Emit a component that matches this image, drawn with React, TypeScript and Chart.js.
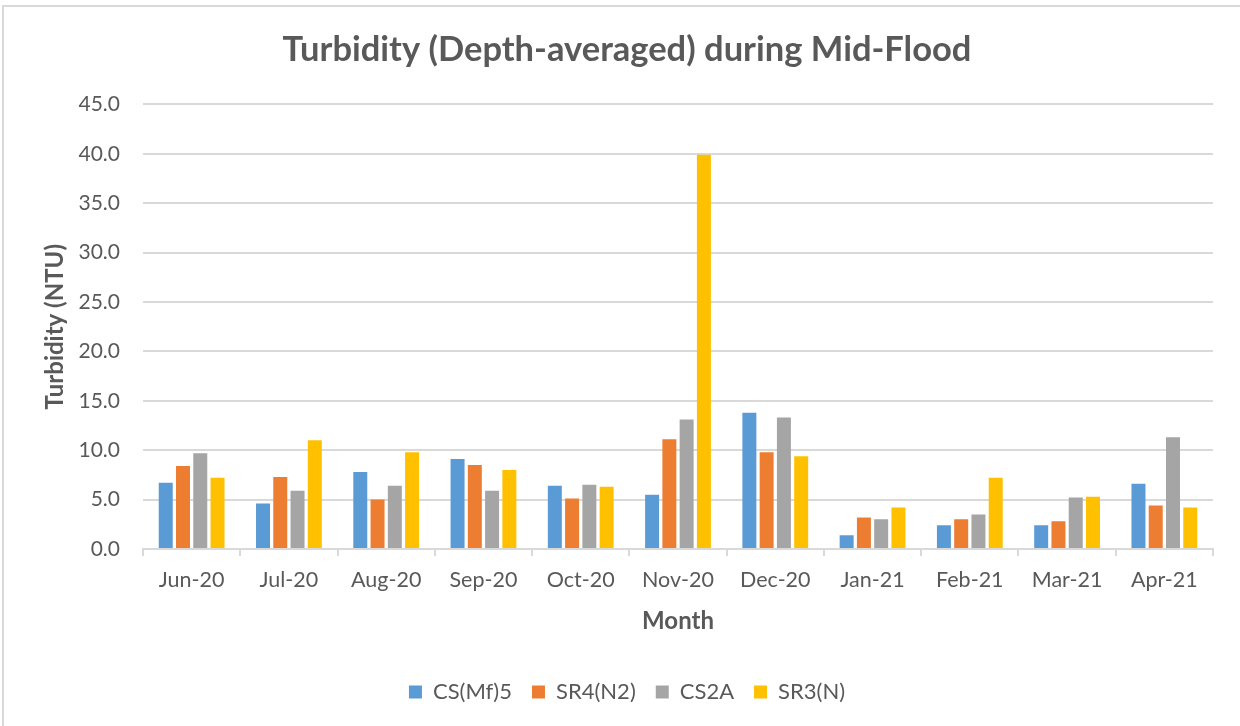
import React, { useEffect, useRef } from "react";
import { Chart, registerables } from "chart.js";

Chart.register(...registerables);

const months = ["Jun-20", "Jul-20", "Aug-20", "Sep-20", "Oct-20", "Nov-20", "Dec-20", "Jan-21", "Feb-21", "Mar-21", "Apr-21"];
const csMf5 = [6.7, 4.6, 7.8, 9.1, 6.4, 5.5, 13.8, 1.4, 2.4, 2.4, 6.6];
const sr4N2 = [8.4, 7.3, 5.0, 8.5, 5.1, 11.1, 9.8, 3.2, 3.0, 2.8, 4.4];
const cs2A = [9.7, 5.9, 6.4, 5.9, 6.5, 13.1, 13.3, 3.0, 3.5, 5.2, 11.3];
const sr3N = [7.2, 11.0, 9.8, 8.0, 6.3, 39.9, 9.4, 4.2, 7.2, 5.3, 4.2];
const seriesNames = ["CS(Mf)5", "SR4(N2)", "CS2A", "SR3(N)"];
const seriesColors = ["#5B9BD5", "#ED7D31", "#A5A5A5", "#FFC000"];

const FONT = "Lato, 'Noto Sans', sans-serif";
const TEXT = "#595959";
const GRID = "#D9D9D9";

export default function App() {
  const ref = useRef<HTMLCanvasElement | null>(null);
  useEffect(() => {
    if (!ref.current) return;
    const values = [csMf5, sr4N2, cs2A, sr3N];
    const chart = new Chart(ref.current, {
      type: "bar",
      data: {
        labels: months,
        datasets: values.map((v, i) => ({
          label: seriesNames[i],
          data: v,
          backgroundColor: seriesColors[i],
          borderWidth: 0,
          barPercentage: 0.81,
          categoryPercentage: 0.71,
        })),
      },
      options: {
        animation: false,
        responsive: false,
        maintainAspectRatio: false,
        layout: { padding: { left: 41, right: 27, top: 0, bottom: 13 } },
        plugins: {
          title: {
            display: true,
            text: "Turbidity (Depth-averaged) during Mid-Flood",
            color: TEXT,
            font: { family: FONT, size: 34.5, weight: "bold" },
            padding: { top: 29, bottom: 34 },
          },
          legend: {
            position: "bottom",
            labels: {
              color: TEXT,
              font: { family: FONT, size: 22 },
              boxWidth: 13,
              boxHeight: 13,
              padding: 20,
            },
          },
          tooltip: { enabled: false },
        },
        scales: {
          x: {
            grid: {
              display: true,
              drawOnChartArea: false,
              drawTicks: true,
              tickLength: 7,
              offset: true,
              color: GRID,
              lineWidth: 2,
            },
            border: { display: true, color: GRID, width: 2 },
            ticks: { color: TEXT, font: { family: FONT, size: 21.5 }, padding: 11 },
            title: {
              display: true,
              text: "Month",
              color: TEXT,
              font: { family: FONT, size: 24, weight: "bold" },
              padding: { top: 0, bottom: 25 },
            },
            afterFit: (scale: any) => {
              scale.height = 112;
            },
          },
          y: {
            min: 0,
            max: 45,
            ticks: {
              stepSize: 5,
              color: TEXT,
              font: { family: FONT, size: 21 },
              padding: 23,
              callback: (v: any) => Number(v).toFixed(1),
            },
            grid: { color: GRID, lineWidth: 2, drawTicks: false },
            border: { display: false },
            title: {
              display: true,
              text: "Turbidity (NTU)",
              color: TEXT,
              font: { family: FONT, size: 24, weight: "bold" },
              padding: { top: 0, bottom: 0 },
            },
            afterFit: (scale: any) => {
              scale.width = 102;
            },
          },
        },
      },
    });
    return () => chart.destroy();
  }, []);
  return (
    <div style={{ position: "fixed", left: 0, top: 0, width: 1240, height: 726, overflow: "hidden", background: "#fff" }}>
      <div
        style={{
          position: "absolute",
          left: 2,
          top: 5,
          width: 1300,
          height: 800,
          borderLeft: "2px solid #D9D9D9",
          borderTop: "2px solid #D9D9D9",
        }}
      />
      <canvas ref={ref} width={1240} height={726} style={{ position: "absolute", left: 0, top: 0 }} />
    </div>
  );
}
